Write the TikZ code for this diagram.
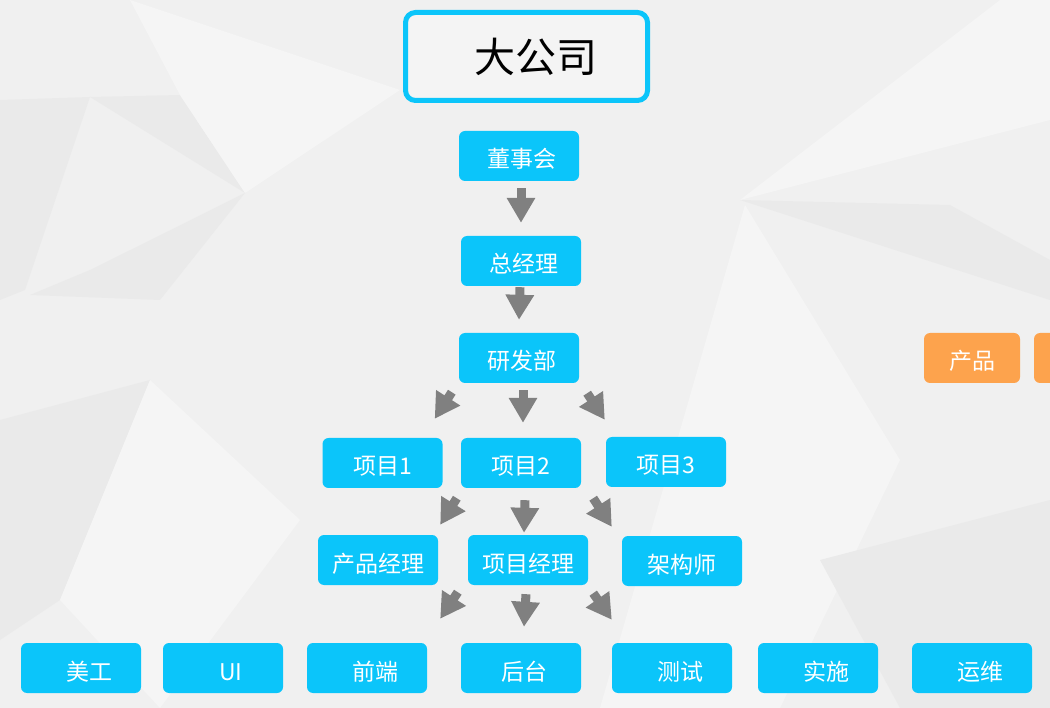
\documentclass[tikz,border=0pt]{standalone}
\usepackage{fontspec}
\setmainfont{Noto Sans CJK SC}
\usepackage{xcolor}
\usetikzlibrary{arrows.meta}
\definecolor{boxcyan}{RGB}{11,197,250}
\definecolor{boxorange}{RGB}{253,163,77}
\definecolor{arrowgray}{RGB}{128,128,128}
\definecolor{bgbase}{RGB}{240,240,240}
\definecolor{bgdark}{RGB}{234,234,234}
\definecolor{bglight}{RGB}{245,245,245}

\begin{document}
\begin{tikzpicture}[x=1pt, y=-1pt,
    dept/.style = {fill=boxcyan, rounded corners=6pt, minimum width=120pt, minimum height=50pt,
                   text=white, font=\fontsize{23}{26}\selectfont, inner sep=0pt,
                   text height=26pt, text depth=2pt},
    side/.style = {dept, fill=boxorange, minimum width=96pt},
    company/.style = {draw=boxcyan, line width=5pt, fill=bgbase!70!white, rounded corners=10pt,
                   minimum width=242pt, minimum height=88pt, font=\fontsize{41}{44}\selectfont},
    blockarrow/.style = {draw=arrowgray, line width=9pt, -{Triangle[width=27pt,length=25pt]}}
    ]
    \useasboundingbox (0,0) rectangle (1050,708);
    \clip (0,0) rectangle (1050,708);
    % background
    \fill[bgbase] (0,0) rectangle (1050,708);
    \fill[bgdark] (0,100) -- (90,97) -- (25,290) -- (0,300) -- cycle;
    \fill[bgdark] (90,97) -- (180,95) -- (245,193) -- cycle;
    \fill[bglight] (130,0) -- (400,90) -- (245,193) -- (180,95) -- cycle;
    \fill[bgdark] (245,193) -- (90,270) -- (30,295) -- (160,300) -- cycle;
    \fill[bglight] (740,200) -- (1000,0) -- (1050,0) -- (1050,120) -- cycle;
    \fill[bgdark] (740,200) -- (950,205) -- (1050,260) -- (1050,300) -- cycle;
    \fill[bglight] (745,205) -- (900,460) -- (780,708) -- (600,708) -- cycle;
    \fill[bgdark] (0,420) -- (150,380) -- (60,600) -- (0,640) -- cycle;
    \fill[bglight] (150,380) -- (300,520) -- (160,708) -- (60,600) -- cycle;
    \fill[bgdark] (820,560) -- (1050,500) -- (1050,708) -- (900,708) -- cycle;

    % nodes
    \node[company] (dgs) at (526.5,56.5) {\hspace*{18pt}大公司};
    \node[dept] (dsh) at (519,156) {\hspace*{6pt}董事会};
    \node[dept] (zjl) at (521,261) {\hspace*{6pt}总经理};
    \node[dept] (yfb) at (519,358) {\hspace*{6pt}研发部};
    \node[side] (cp) at (972,358) {产品};
    \node[side] (cpx) at (1082,358) {};

    \node[dept] (xm1) at (382.5,463) {项目1};
    \node[dept] (xm2) at (521,463) {项目2};
    \node[dept] (xm3) at (666,462) {项目3};

    \node[dept] (cpjl) at (378,560) {产品经理};
    \node[dept] (xmjl) at (528,560) {项目经理};
    \node[dept] (jgs) at (682,561) {架构师};

    \node[dept] (mg) at (81,668) {\hspace*{16pt}美工};
    \node[dept] (ui) at (223,668) {\hspace*{16pt}UI};
    \node[dept] (qd) at (367,668) {\hspace*{16pt}前端};
    \node[dept] (ht) at (521,668) {\hspace*{6pt}后台};
    \node[dept] (cs) at (672,668) {\hspace*{16pt}测试};
    \node[dept] (ss) at (818,668) {\hspace*{16pt}实施};
    \node[dept] (yw) at (972,668) {\hspace*{16pt}运维};

    % arrows
    \draw[blockarrow] ([shift={(2,7)}]dsh.south) -- ([shift={(0,-13)}]zjl.north);
    \draw[blockarrow] ([shift={(-1,1)}]zjl.south) -- ([shift={(0,-13)}]yfb.north);

    \draw[blockarrow] ([shift={(-7,9)}]yfb.south west) -- ([shift={(-8,-19)}]xm1.north east);
    \draw[blockarrow] ([shift={(4,7)}]yfb.south) -- ([shift={(2,-15)}]xm2.north);
    \draw[blockarrow] ([shift={(8,10)}]yfb.south east) -- ([shift={(-1,-17)}]xm3.north west);

    \draw[blockarrow] ([shift={(-4,10)}]xm2.south west) -- ([shift={(2,-10)}]cpjl.north east);
    \draw[blockarrow] ([shift={(4,12)}]xm2.south) -- ([shift={(-4,-2)}]xmjl.north);
    \draw[blockarrow] ([shift={(12,10)}]xm2.south east) -- ([shift={(-10,-9)}]jgs.north west);

    \draw[blockarrow] ([shift={(-10,7)}]xmjl.south west) -- ([shift={(13,-24)}]qd.north east);
    \draw[blockarrow] ([shift={(-2,9)}]xmjl.south) -- ([shift={(3,-16)}]ht.north);
    \draw[blockarrow] ([shift={(5,8)}]xmjl.south east) -- ([shift={(0,-23)}]cs.north west);
\end{tikzpicture}
\end{document}
